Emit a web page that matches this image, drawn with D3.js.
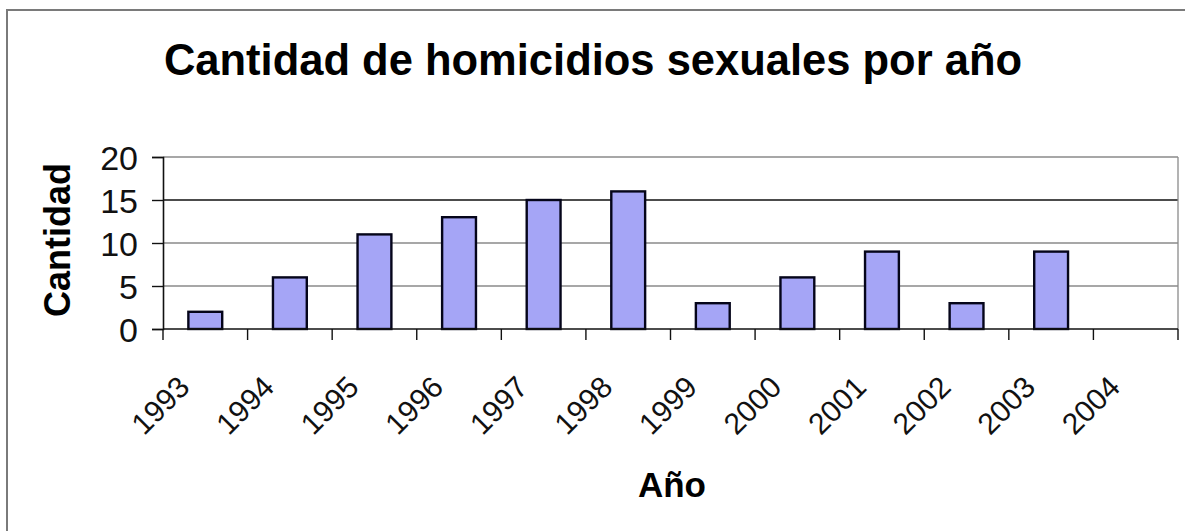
<!DOCTYPE html>
<html>
<head>
<meta charset="utf-8">
<script src="https://cdn.jsdelivr.net/npm/d3@7/dist/d3.min.js"></script>
<style>
  html, body { margin: 0; padding: 0; background: #ffffff; }
  svg { display: block; }
</style>
</head>
<body>
<svg id="chart" width="1185" height="531"></svg>
<script>
const years = ["1993","1994","1995","1996","1997","1998","1999","2000","2001","2002","2003","2004"];
const counts = [2, 6, 11, 13, 15, 16, 3, 6, 9, 3, 9, 0];
const yTicks = [0, 5, 10, 15, 20];
const darkGrid = [15];

const title = "Cantidad de homicidios sexuales por año";
const yTitle = "Cantidad";
const xTitle = "Año";

const svg = d3.select("#chart");
const W = 1185, H = 531;
const m = { left: 163, right: 1178, top: 157, bottom: 329 };
const font = "Arial, 'Liberation Sans', sans-serif";

// outer frame
svg.append("rect").attr("x", 7).attr("y", 10).attr("width", W).attr("height", H)
  .attr("fill", "#fff").attr("stroke", "#7a7a7a").attr("stroke-width", 2);

const x = d3.scaleBand().domain(years).range([m.left, m.right]).paddingInner(0).paddingOuter(0);
const y = d3.scaleLinear().domain([0, 20]).range([m.bottom, m.top]);

// gridlines
svg.append("g").selectAll("line").data(yTicks.filter(d => d > 0)).join("line")
  .attr("x1", m.left).attr("x2", m.right)
  .attr("y1", d => y(d)).attr("y2", d => y(d))
  .attr("stroke", d => darkGrid.includes(d) ? "#111" : "#8a8a8a")
  .attr("stroke-width", d => darkGrid.includes(d) ? 1.6 : 1.3);

// right plot border
svg.append("line").attr("x1", m.right).attr("x2", m.right).attr("y1", m.top).attr("y2", m.bottom)
  .attr("stroke", "#8a8a8a").attr("stroke-width", 1.3);

// bars
const bw = x.bandwidth() / 2.5;
svg.append("g").selectAll("rect").data(years.map((yr, i) => ({ yr, v: counts[i] })).filter(d => d.v > 0)).join("rect")
  .attr("x", d => x(d.yr) + (x.bandwidth() - bw) / 2)
  .attr("y", d => y(d.v))
  .attr("width", bw)
  .attr("height", d => y(0) - y(d.v))
  .attr("fill", "#a5a5f6")
  .attr("stroke", "#05051a")
  .attr("stroke-width", 2.4);

// y axis
const yAxis = d3.axisLeft(y).tickValues(yTicks).tickSize(11).tickPadding(14).tickFormat(d3.format("d"));
const gy = svg.append("g").attr("transform", `translate(${m.left},0)`).call(yAxis);
gy.select(".domain").attr("stroke", "#111").attr("stroke-width", 1.6);
gy.selectAll(".tick line").attr("stroke", "#111").attr("stroke-width", 1.4);
gy.selectAll(".tick text").attr("font-family", font).attr("font-size", 34).attr("fill", "#111")
  .attr("dy", "0.36em");

// x axis: ticks at band boundaries
const bounds = years.map(yr => x(yr)).concat([m.right]);
svg.append("line").attr("x1", m.left).attr("x2", m.right).attr("y1", m.bottom).attr("y2", m.bottom)
  .attr("stroke", "#111").attr("stroke-width", 1.6);
svg.append("g").selectAll("line").data(bounds).join("line")
  .attr("x1", d => d).attr("x2", d => d).attr("y1", m.bottom).attr("y2", m.bottom + 11)
  .attr("stroke", "#111").attr("stroke-width", 1.4);

svg.append("g").selectAll("text").data(years).join("text")
  .attr("transform", d => `translate(${x(d) + x.bandwidth() / 2 - 14},${389}) rotate(-45)`)
  .attr("text-anchor", "end")
  .attr("font-family", font).attr("font-size", 30).attr("fill", "#111")
  .text(d => d);

// titles
svg.append("text").attr("x", 593).attr("y", 75).attr("text-anchor", "middle")
  .attr("font-family", font).attr("font-weight", "bold").attr("font-size", 43.5).attr("fill", "#000")
  .text(title);

svg.append("text").attr("transform", `translate(70,${(m.top + m.bottom) / 2 - 3}) rotate(-90)`)
  .attr("text-anchor", "middle")
  .attr("font-family", font).attr("font-weight", "bold").attr("font-size", 36).attr("fill", "#000")
  .text(yTitle);

svg.append("text").attr("x", 672).attr("y", 497).attr("text-anchor", "middle")
  .attr("font-family", font).attr("font-weight", "bold").attr("font-size", 35).attr("fill", "#000")
  .text(xTitle);
</script>
</body>
</html>
